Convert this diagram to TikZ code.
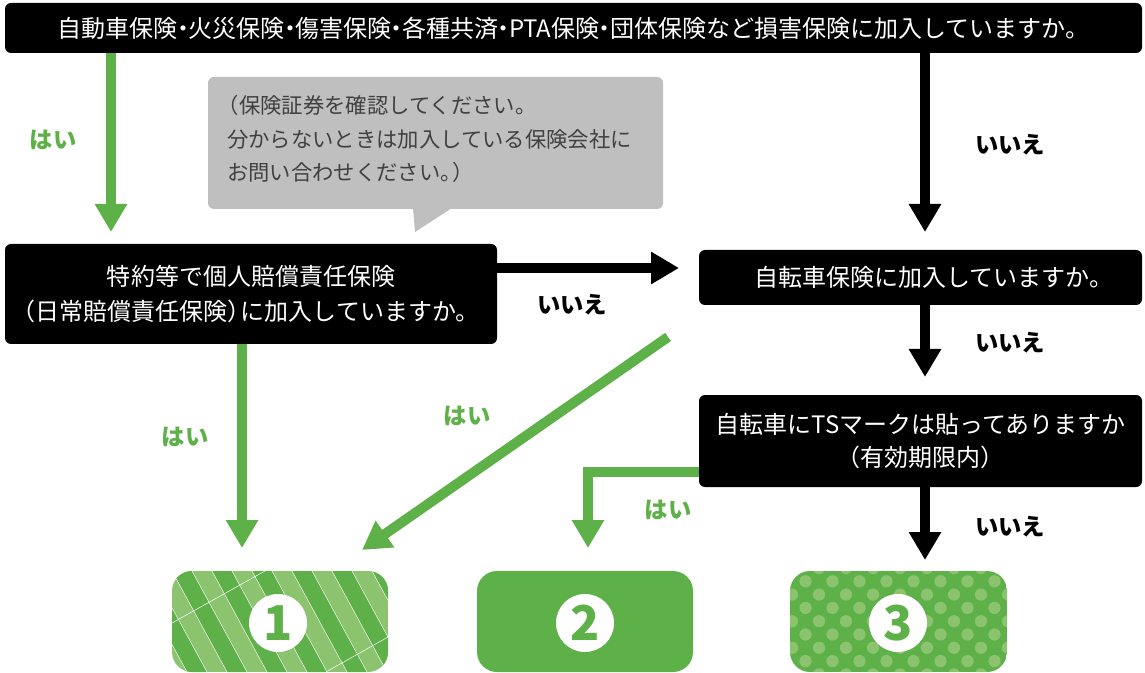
\documentclass[tikz,border=0pt]{standalone}
\usepackage{fontspec}
\setmainfont{Noto Sans CJK JP}
\usetikzlibrary{arrows.meta}
\definecolor{grn}{RGB}{94,176,72}
\definecolor{lgrn}{RGB}{140,195,110}
\definecolor{bubblegray}{RGB}{190,191,190}
\definecolor{bubbletext}{RGB}{64,64,64}
\newcommand{\nd}{\makebox[0.45em]{・}}
\newcommand{\lpar}{\makebox[0.55em][r]{（}}
\newcommand{\rpar}{\makebox[0.55em][l]{）}}
\begin{document}
\begin{tikzpicture}[x=0.75pt,y=-0.75pt,
 qbox/.style={fill=black, rounded corners=4.5pt, text=white, align=center, inner sep=0pt, font=\fontsize{18pt}{26pt}\selectfont},
 yeslab/.style={text=grn, font=\fontsize{17.5pt}{20pt}\selectfont\bfseries},
 nolab/.style={text=black, font=\fontsize{17.5pt}{20pt}\selectfont\bfseries},
 garrow/.style={draw=grn, line width=7.5pt, -{Triangle[width=23pt,length=21pt]}},
 barrow/.style={draw=black, line width=7.5pt, -{Triangle[width=23pt,length=21pt]}},
 resbox/.style={rounded corners=15pt, minimum width=162pt, minimum height=75.75pt, inner sep=0pt},
 numcirc/.style={circle, fill=white, minimum size=43.5pt, inner sep=0pt, text=grn, font=\fontsize{36pt}{36pt}\selectfont\bfseries},
]
\useasboundingbox (0,0) rectangle (1145,673);

% question boxes
\node[qbox, minimum width=852.75pt, minimum height=37.5pt] (top) at (573.5,28)
  {自動車保険\nd 火災保険\nd 傷害保険\nd 各種共済\nd PTA保険\nd 団体保険など損害保険に加入していますか。};
\node[qbox, minimum width=369pt, minimum height=75pt] (q2) at (251,294)
  {特約等で個人賠償責任保険\\\lpar 日常賠償責任保険\rpar に加入していますか。};
\node[qbox, minimum width=332.25pt, minimum height=41.25pt] (q3) at (920.5,277.5)
  {\hspace*{20pt}自転車保険に加入していますか。};
\node[qbox, minimum width=332.25pt, minimum height=69pt, font=\fontsize{18pt}{25pt}\selectfont] (q4) at (920.5,441)
  {自転車にTSマークは貼ってありますか\\\lpar 有効期限内\rpar};

% speech bubble
\node[fill=bubblegray, rounded corners=4.5pt, minimum width=341.25pt, minimum height=99pt, inner sep=0pt] (bubble) at (435.5,143) {};
\fill[bubblegray] (413,208) -- (452,208) -- (415,232) -- cycle;
\node[anchor=west, align=left, text=bubbletext, inner sep=0pt, font=\fontsize{16pt}{25pt}\selectfont] (btext) at (227,139)
  {\lpar 保険証券を確認してください。\\分からないときは加入している保険会社に\\お問い合わせください。\kern-0.45em\rpar};

% result box 1 (stripes)
\begin{scope}
\clip[rounded corners=15pt] (172,571) rectangle (388,672);
\fill[lgrn] (172,571) rectangle (388,672);
\foreach \k in {0,...,8} {
  \fill[grn] ({92+40*\k},571) -- ++(20,0) -- ++(55,101) -- ++(-20,0) -- cycle;
  \draw[white, line width=0.35pt] ({92+40*\k},571) -- ++(55,101);
  \draw[white, line width=0.35pt] ({112+40*\k},571) -- ++(55,101);
}
\draw[white, line width=0.4pt] (172,623) -- (265,571);
\draw[white, line width=0.4pt] (326,672) -- (388,637);
\end{scope}
\node[resbox] (r1) at (280,621.5) {};
\node[numcirc] (n1) at (278,623) {1};

% result box 2 (plain)
\node[resbox, fill=grn] (r2) at (585,621.5) {};
\node[numcirc] (n2) at (585,623) {2};

% result box 3 (dots)
\begin{scope}
\clip[rounded corners=15pt] (790,571) rectangle (1007,672);
\fill[grn] (790,571) rectangle (1007,672);
\foreach \i in {0,...,8} {
  \foreach \j in {-1,...,9} {
    \pgfmathsetmacro{\xx}{792+27*\j+13.5*mod(\i,2)}
    \pgfmathsetmacro{\yy}{568+13.3*\i}
    \fill[lgrn] (\xx,\yy) circle (4.6pt);
  }
}
\end{scope}
\node[resbox] (r3) at (898.5,621.5) {};
\node[numcirc] (n3) at (898,623) {3};

% arrow end coordinates
\coordinate (c1) at (111,232);
\coordinate (c2) at (925,232);
\coordinate (c3) at (679,268);
\coordinate (c4) at (925,377);
\coordinate (c5) at (242,548);
\coordinate (c6) at (668,337);
\coordinate (c7) at (362,550);
\coordinate (c8) at (588,472);
\coordinate (c9) at (588,548);
\coordinate (c10) at (925,560);

% connectors
\draw[garrow] (top.south -| c1) -- (c1);
\draw[barrow] (top.south -| c2) -- (c2);
\draw[barrow] (q2.east |- c3) -- (c3);
\draw[barrow] (q3.south -| c4) -- (c4);
\draw[garrow] (q2.south -| c5) -- (c5);
\draw[garrow] (c6) -- (c7);
\draw[garrow] (q4.west |- c8) -- (c8) -- (c9);
\draw[barrow] (q4.south -| c10) -- (c10);

% labels
\node[yeslab] (l1) at (53,140) {はい};
\node[nolab] (l2) at (1010,145) {いいえ};
\node[nolab] (l3) at (572,305) {いいえ};
\node[yeslab] (l4) at (185,437) {はい};
\node[yeslab] (l5) at (467,416) {はい};
\node[nolab] (l6) at (1010,343) {いいえ};
\node[yeslab] (l7) at (668,510) {はい};
\node[nolab] (l8) at (1010,527) {いいえ};
\end{tikzpicture}
\end{document}
